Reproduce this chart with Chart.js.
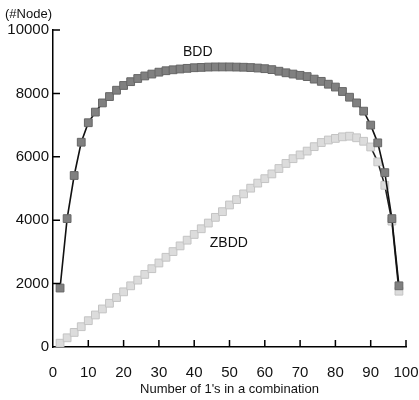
<!DOCTYPE html>
<html>
<head>
<meta charset="utf-8">
<script src="https://cdn.jsdelivr.net/npm/chart.js@4.4.1/dist/chart.umd.min.js"></script>
<style>
    html, body { margin: 0; padding: 0; background: #fff; }
    #box { width: 419px; height: 400px; position: relative; }
</style>
</head>
<body>
<div id="box"><canvas id="chart_nodes"></canvas></div>
<script>
// numero de 1's na combinacao
var combinacoes = [2, 4, 6, 8, 10, 12, 14, 16, 18, 20, 22, 24, 26, 28, 30, 32, 34, 36, 38, 40,
    42, 44, 46, 48, 50, 52, 54, 56, 58, 60, 62, 64, 66, 68, 70, 72, 74, 76, 78, 80,
    82, 84, 86, 88, 90, 92, 94, 96, 98];

var nodesBDD = [1860, 4050, 5410, 6460, 7075, 7410, 7700, 7900, 8100, 8250, 8370, 8470, 8550, 8610, 8670, 8715, 8745, 8770, 8790, 8810,
    8820, 8830, 8835, 8835, 8835, 8830, 8825, 8815, 8800, 8780, 8750, 8700, 8650, 8610, 8570, 8530, 8450, 8380, 8290, 8200,
    8060, 7880, 7700, 7440, 7000, 6440, 5500, 4050, 1930];

var nodesZBDD = [120, 290, 460, 640, 830, 1010, 1200, 1380, 1560, 1740, 1930, 2110, 2290, 2470, 2650, 2830, 3010, 3190, 3370, 3550,
    3730, 3910, 4090, 4270, 4480, 4650, 4830, 5010, 5170, 5310, 5460, 5630, 5790, 5940, 6060, 6180, 6320, 6450, 6530, 6580,
    6630, 6650, 6600, 6490, 6310, 5840, 5100, 3970, 1760];

var ticksX = [0, 10, 20, 30, 40, 50, 60, 70, 80, 90, 100];
var ticksY = [0, 2000, 4000, 6000, 8000, 10000];

// rotulos das curvas (posicao em valores do grafico)
var rotulos = [
    { texto: "BDD", x: 41, y: 9300 },
    { texto: "ZBDD", x: 49.8, y: 3290 }
];

function montarPontos(xs, ys) {
    var pontos = [];
    for (let i = 0; i < xs.length; i++) {
        pontos.push({ x: xs[i], y: ys[i] });
    }
    return pontos;
}

// marcas dos eixos para dentro + textos extras
const plugExtras = {
    id: 'extras',
    afterDraw(chart) {
        const ctx = chart.ctx;
        const sx = chart.scales.x;
        const sy = chart.scales.y;
        const area = chart.chartArea;
        ctx.save();
        ctx.strokeStyle = '#000';
        ctx.lineWidth = 1.5;
        ctx.beginPath();
        sx.ticks.forEach(function (t) {
            if (t.value == 0) return;
            var px = sx.getPixelForValue(t.value);
            ctx.moveTo(px, area.bottom);
            ctx.lineTo(px, area.bottom - 7);
        });
        sy.ticks.forEach(function (t) {
            if (t.value == 0) return;
            var py = sy.getPixelForValue(t.value);
            ctx.moveTo(area.left, py);
            ctx.lineTo(area.left + 7, py);
        });
        ctx.stroke();

        ctx.fillStyle = '#111';
        ctx.textAlign = 'center';
        ctx.textBaseline = 'middle';
        ctx.font = '14px "Liberation Sans", Arial, sans-serif';
        rotulos.forEach(function (r) {
            ctx.fillText(r.texto, sx.getPixelForValue(r.x), sy.getPixelForValue(r.y));
        });

        ctx.textAlign = 'left';
        ctx.font = '13px "Liberation Sans", Arial, sans-serif';
        ctx.fillText("(#Node)", 5, 14);
        ctx.restore();
    }
};

const dados = {
    datasets: [{
        label: 'BDD',
        data: montarPontos(combinacoes, nodesBDD),
        borderColor: '#111',
        borderWidth: 1.6,
        pointStyle: 'rect',
        pointRadius: 5.5,
        pointBackgroundColor: '#808080',
        pointBorderColor: '#666',
        pointBorderWidth: 1,
        tension: 0
    }, {
        label: 'ZBDD',
        data: montarPontos(combinacoes, nodesZBDD),
        borderColor: '#222',
        borderWidth: 1.6,
        pointStyle: 'rect',
        pointRadius: 5.5,
        pointBackgroundColor: '#dcdcdc',
        pointBorderColor: '#c4c4c4',
        pointBorderWidth: 1,
        tension: 0
    }]
};

const config = {
    type: 'line',
    data: dados,
    plugins: [plugExtras],
    options: {
        responsive: true,
        maintainAspectRatio: false,
        animation: false,
        layout: { padding: { top: 30, right: 13, left: 0, bottom: 0 } },
        plugins: {
            legend: { display: false },
            tooltip: { enabled: false }
        },
        scales: {
            x: {
                type: 'linear',
                min: 0,
                max: 100,
                afterBuildTicks: function (scale) {
                    scale.ticks = ticksX.map(function (v) { return { value: v }; });
                },
                afterFit: function (scale) {
                    scale.height = 53;
                    scale.paddingLeft = 0;
                    scale.paddingRight = 0;
                },
                grid: { display: false, drawTicks: false },
                border: { display: true, color: '#000', width: 1.5 },
                ticks: {
                    color: '#111',
                    padding: 17,
                    maxRotation: 0,
                    autoSkip: false,
                    callback: function (v) { return String(v); },
                    font: { family: '"Liberation Sans", Arial, sans-serif', size: 15 }
                },
                title: {
                    display: true,
                    text: "Number of 1's in a combination",
                    color: '#111',
                    padding: { top: 0, bottom: 3 },
                    font: { family: '"Liberation Sans", Arial, sans-serif', size: 13 }
                }
            },
            y: {
                type: 'linear',
                min: 0,
                max: 10000,
                afterBuildTicks: function (scale) {
                    scale.ticks = ticksY.map(function (v) { return { value: v }; });
                },
                afterFit: function (scale) {
                    scale.width = 53;
                    scale.paddingTop = 0;
                    scale.paddingBottom = 0;
                },
                grid: { display: false, drawTicks: false },
                border: { display: true, color: '#000', width: 1.5 },
                ticks: {
                    color: '#111',
                    padding: 4,
                    callback: function (v) { return String(v); },
                    font: { family: '"Liberation Sans", Arial, sans-serif', size: 15 }
                }
            }
        }
    }
};

let myChart = new Chart(document.getElementById('chart_nodes'), config);
</script>
</body>
</html>
